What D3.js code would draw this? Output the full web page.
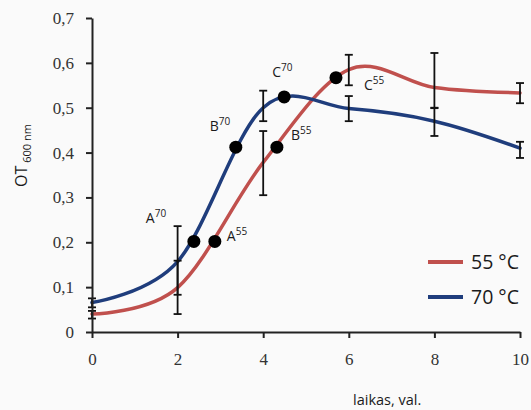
<!DOCTYPE html>
<html lang="lt">
<head>
    <meta charset="UTF-8">
    <title>OT 600 nm</title>
    <script src="https://d3js.org/d3.v7.min.js"></script>
    <style>
        body { margin: 0; background-color: #fafafa; }
        svg { display: block; }
        .tick-label { font-family: 'Liberation Serif', serif; font-size: 17px; fill: #333; }
        .sans { font-family: 'Open Sans', sans-serif; fill: #1a1a1a; }
    </style>
</head>
<body>
<script>
    // Data
    const times = [0, 2, 4, 6, 8, 10];
    const ot55 = [0.040, 0.099, 0.378, 0.585, 0.545, 0.533];
    const up55 = [0.007, 0.060, 0.070, 0.033, 0.077, 0.022];
    const down55 = [0.010, 0.059, 0.073, 0.035, 0.046, 0.023];
    const ot70 = [0.066, 0.157, 0.500, 0.498, 0.470, 0.410];
    const up70 = [0.009, 0.079, 0.038, 0.028, 0.030, 0.014];
    const down70 = [0.011, 0.074, 0.030, 0.028, 0.033, 0.022];
    const xTicks = [0, 2, 4, 6, 8, 10];
    const yTicks = [0, 0.1, 0.2, 0.3, 0.4, 0.5, 0.6, 0.7];

    // marked phases
    const phaseNames = ["A", "A", "B", "B", "C", "C"];
    const phaseTemps = ["70", "55", "70", "55", "70", "55"];
    const phaseX = [2.38, 2.87, 3.36, 4.32, 4.49, 5.70];
    const phaseY = [0.202, 0.202, 0.412, 0.412, 0.524, 0.567];

    const series = [
        {name: "55 °C", values: ot55, up: up55, down: down55, color: "#c0504d"},
        {name: "70 °C", values: ot70, up: up70, down: down70, color: "#1f3d7c"}
    ];

    const W = 531, H = 410;
    const x = d3.scaleLinear().domain([0, 10]).range([92, 520]);
    const y = d3.scaleLinear().domain([0, 0.7]).range([332, 18]);

    const svg = d3.select("body").append("svg")
        .attr("width", W)
        .attr("height", H);

    // Lines
    const line = d3.line()
        .x((d, i) => x(times[i]))
        .y(d => y(d))
        .curve(d3.curveCardinal.tension(0));

    series.forEach(s => {
        svg.append("path")
            .attr("d", line(s.values))
            .attr("fill", "none")
            .attr("stroke", s.color)
            .attr("stroke-width", 3.5)
            .attr("stroke-linecap", "round");
    });

    // Error bars
    const cap = 4;
    series.forEach(s => {
        const g = svg.append("g").attr("stroke", "#111").attr("stroke-width", 1.8);
        s.values.forEach((v, i) => {
            const cx = x(times[i]);
            const y1 = y(v + s.up[i]), y2 = y(v - s.down[i]);
            g.append("line").attr("x1", cx).attr("x2", cx).attr("y1", y1).attr("y2", y2);
            g.append("line").attr("x1", cx - cap).attr("x2", cx + cap).attr("y1", y1).attr("y2", y1);
            g.append("line").attr("x1", cx - cap).attr("x2", cx + cap).attr("y1", y2).attr("y2", y2);
        });
    });

    // Axes
    const xAxis = svg.append("g")
        .attr("transform", "translate(0," + y(0) + ")")
        .call(d3.axisBottom(x).tickValues(xTicks).tickSize(6).tickSizeOuter(0).tickPadding(12));
    const yAxis = svg.append("g")
        .attr("transform", "translate(" + x(0) + ",0)")
        .call(d3.axisLeft(y).tickValues(yTicks).tickSize(6).tickSizeOuter(0).tickPadding(12)
            .tickFormat(d => d === 0 ? "0" : d3.format(".1f")(d).replace(".", ",")));

    [xAxis, yAxis].forEach(a => {
        a.select(".domain").attr("stroke", "#222").attr("stroke-width", 2);
        a.selectAll(".tick line").attr("stroke", "#222").attr("stroke-width", 2);
        a.selectAll(".tick text").attr("class", "tick-label").attr("fill", null);
    });
    xAxis.selectAll(".tick text").attr("dy", "0.9em");

    // Phase points
    svg.selectAll(".phase")
        .data(phaseX)
        .enter().append("circle")
        .attr("class", "phase")
        .attr("cx", d => x(d))
        .attr("cy", (d, i) => y(phaseY[i]))
        .attr("r", 6.5)
        .attr("fill", "#000");

    // Phase labels
    const labelOffsets = [[-48, -18], [12, 0], [-26, -16], [14, -7], [-12, -20], [28, 12]];
    phaseX.forEach((d, i) => {
        const t = svg.append("text")
            .attr("class", "sans")
            .attr("x", x(d) + labelOffsets[i][0])
            .attr("y", y(phaseY[i]) + labelOffsets[i][1])
            .attr("font-size", 14);
        t.append("tspan").text(phaseNames[i]);
        t.append("tspan").attr("font-size", 10).attr("dy", -6).text(phaseTemps[i]);
    });

    // Axis titles
    const yt = svg.append("text")
        .attr("class", "sans")
        .attr("transform", "translate(27,187) rotate(-90)")
        .attr("font-size", 16)
        .attr("fill", "#111");
    yt.append("tspan").text("OT");
    yt.append("tspan").attr("font-size", 11).attr("dy", 4).attr("dx", 3).text("600 nm");

    svg.append("text")
        .attr("class", "sans")
        .attr("x", 353)
        .attr("y", 405)
        .attr("font-size", 14.5)
        .text("laikas, val.");

    // Legend
    const legend = svg.append("g").attr("transform", "translate(428,262)");
    series.forEach((s, i) => {
        legend.append("line")
            .attr("x1", 0).attr("x2", 35)
            .attr("y1", i * 35).attr("y2", i * 35)
            .attr("stroke", s.color)
            .attr("stroke-width", 4);
        legend.append("text")
            .attr("class", "sans")
            .attr("x", 43)
            .attr("y", i * 35 + 7)
            .attr("font-size", 19.5)
            .text(s.name);
    });
</script>
</body>
</html>
